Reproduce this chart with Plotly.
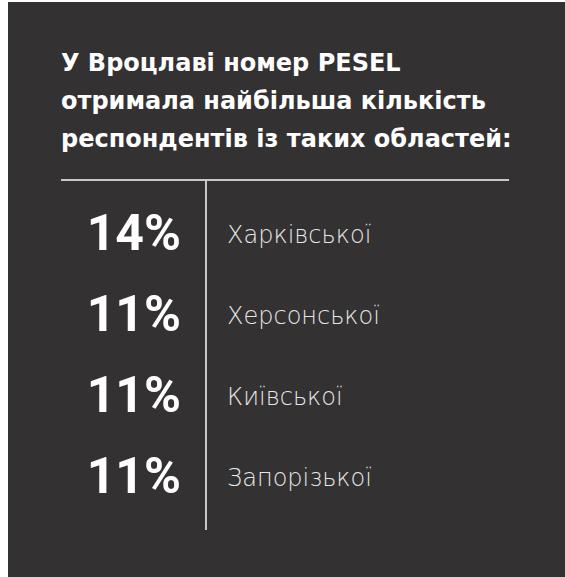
import plotly.graph_objects as go

# ---- data ----
TITLE_LINES = [
    "У Вроцлаві номер PESEL",
    "отримала найбільша кількість",
    "респондентів із таких областей:",
]
regions = ["Харківської", "Херсонської", "Київської", "Запорізької"]
shares = [14, 11, 11, 11]
pct_labels = [f"{v}%" for v in shares]

W, H = 565, 577
BG = "#333132"
ROW_TOP_PX = 237.0   # centre of first row in px
ROW_STEP_PX = 81.0   # pixel distance between rows

idx = list(range(len(regions)))
r_top = -ROW_TOP_PX / ROW_STEP_PX
r_bot = r_top + H / ROW_STEP_PX

fig = go.Figure()

fig.add_trace(go.Scatter(
    x=[181] * len(idx), y=idx, mode="text", text=pct_labels,
    textposition="middle left",
    textfont=dict(family="Roboto", size=50, color="#ffffff", weight=700),
    hoverinfo="skip", showlegend=False,
))
fig.add_trace(go.Scatter(
    x=[227] * len(idx), y=idx, mode="text", text=regions,
    textposition="middle right",
    textfont=dict(family="DejaVu Sans", size=24, color="#e6e6e6", weight=200),
    hoverinfo="skip", showlegend=False,
))

# dark panel (white strip left/top as in reference)
fig.add_shape(type="rect", xref="paper", yref="paper",
              x0=8 / W, x1=1, y0=0, y1=1 - 2 / H,
              fillcolor=BG, line=dict(width=0), layer="below")
# separator lines
fig.add_shape(type="line", xref="paper", yref="paper",
              x0=61 / W, x1=509 / W, y0=1 - 180 / H, y1=1 - 180 / H,
              line=dict(color="#c8c8c8", width=2))
fig.add_shape(type="line", xref="paper", yref="paper",
              x0=206 / W, x1=206 / W, y0=1 - 180 / H, y1=1 - 530 / H,
              line=dict(color="#c8c8c8", width=2))

title_centres = [63.5, 101.5, 139.5]
for line, yc in zip(TITLE_LINES, title_centres):
    fig.add_annotation(
        text=f"<b>{line}</b>", xref="paper", yref="paper",
        x=59 / W, y=1 - yc / H, xanchor="left", yanchor="middle",
        showarrow=False, align="left",
        font=dict(family="DejaVu Sans", size=24, color="#ffffff"),
    )

fig.update_layout(
    width=W, height=H,
    margin=dict(l=0, r=0, t=0, b=0),
    paper_bgcolor="#ffffff", plot_bgcolor="rgba(0,0,0,0)",
    xaxis=dict(range=[0, W], visible=False, fixedrange=True),
    yaxis=dict(range=[r_bot, r_top], visible=False, fixedrange=True),
    showlegend=False,
    hovermode=False,
)

fig.write_html("out.html",
               config={"displayModeBar": False, "staticPlot": True},
               post_script="document.body.style.margin='0';document.body.style.overflow='hidden';")
